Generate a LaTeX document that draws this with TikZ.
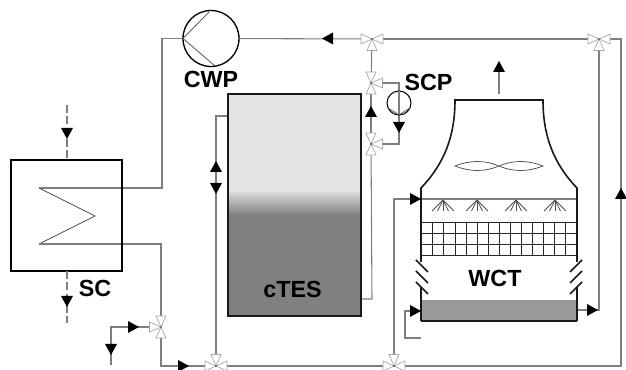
\documentclass[tikz,border=0pt]{standalone}
\usepackage{fontspec}
\setmainfont{Liberation Sans}
\usepackage{xcolor}
\usepackage{tikz}
\usetikzlibrary{calc}

\definecolor{pipegray}{HTML}{7F7F7F}
\definecolor{valvegray}{HTML}{A6A6A6}
\definecolor{tesLight}{HTML}{E3E3E3}
\definecolor{tesDark}{HTML}{808080}
\definecolor{basinGray}{HTML}{999999}

\tikzset{
  pipe/.style={draw=pipegray, line width=0.8pt},
  wall/.style={draw=black!90, line width=1.2pt},
  valveline/.style={draw=valvegray, fill=white, line width=0.5pt, line join=miter},
  thinline/.style={draw=black!70, line width=0.55pt},
  tag/.style={font=\fontsize{17.5}{20}\selectfont\bfseries, text=black, inner sep=0pt}
}

% tip of the arrow at #1, pointing along angle #2
\newcommand{\flowhead}[2]{\fill[black, shift={(#1)}, rotate=#2] (0,0) -- (-11,6) -- (-11,-6) -- cycle;}
% three-way valve at #1, stem turned by #2 (0 = stem downwards)
\newcommand{\threeway}[2]{%
  \begin{scope}[shift={(#1)}, rotate=#2]
    \draw[valveline] (0,0) -- (11,-5) -- (11,5) -- cycle;
    \draw[valveline] (0,0) -- (-11,-5) -- (-11,5) -- cycle;
    \draw[valveline] (0,0) -- (-5,11.5) -- (5,11.5) -- cycle;
    \fill[black!70] (0,0) circle (0.9);
  \end{scope}}

\begin{document}
\begin{tikzpicture}[x=0.75pt, y=-0.75pt]
  \useasboundingbox (0,0) rectangle (626,370);

  % Valves and pipe corners
  \coordinate (VA) at (372,39);
  \coordinate (VB) at (599,39);
  \coordinate (VC) at (371,83);
  \coordinate (VD) at (371,144);
  \coordinate (VE) at (161,327);
  \coordinate (VF) at (216,366);
  \coordinate (VG) at (394,366);
  \coordinate (CWPc) at (211,38.5);
  \coordinate (SCPc) at (399,103);

  % Solar collector loop
  \coordinate (coilA) at (39,188);
  \coordinate (coilB) at (95,216);
  \coordinate (coilC) at (39,244);
  \draw[pipe] (CWPc) -- (162,38.5) -- (162,188) -- (coilA);
  \draw[thinline] (coilA) -- (coilB) -- (coilC);
  \draw[pipe] (coilC) -- (161,244) -- (VE);
  \draw[pipe] (VE) -- (161,366) -- (VF);
  \draw[pipe] (VF) -- (VG);
  \draw[pipe] (VG) -- (621,366) -- (621,39) -- (VB);
  \draw[pipe] (VB) -- (VA);
  \draw[pipe] (VA) -- (CWPc);
  \draw[pipe] (VE) -- (111,327) -- (111,365);

  % Tower pipes
  \draw[pipe] (VB) -- (599,310) -- (577,310);
  \draw[pipe] (VG) -- (394,199) -- (421,199);
  \draw[pipe] (421,199) -- (577,199);
  \draw[pipe] (421,338) -- (405,338) -- (405,311) -- (421,311);

  % Tank pipes
  \draw[pipe] (VA) -- (VC);
  \draw[pipe] (VC) -- (VD);
  \draw[pipe] (VD) -- (372,299) -- (361,299);
  \draw[pipe] (VC) -- (399,83) -- (SCPc);
  \draw[pipe] (SCPc) -- (399,144) -- (VD);
  \draw[pipe] (228,116) -- (216,116) -- (VF);

  % Solar collector
  \draw[line width=1.5pt, black] (11,160) rectangle (122,271);
  \draw[pipe, dash pattern=on 6pt off 2.5pt] (67,105) -- (67,160);
  \draw[pipe, dash pattern=on 6pt off 2.5pt] (67,271) -- (67,323);
  \node[tag] (SClabel) at (95,288) {SC};

  % Tank
  \fill[tesLight] (228,94) rectangle (361,190);
  \shade[top color=tesLight, bottom color=tesDark] (228,190) rectangle (361,215);
  \fill[tesDark] (228,215) rectangle (361,316);
  \draw[wall] (228,94) rectangle (361,316);
  \node[tag] (TESlabel) at (292.5,289) {cTES};

  % Pumps
  \draw[line width=1pt, black, fill=white] (CWPc) circle (28);
  \draw[thinline] (209,12) -- (183,38.5) -- (215,66);
  \draw[line width=0.8pt, black] (SCPc) circle (12);
  \draw[pipe] (399,91) -- (399,115);
  \draw[thinline] (388,108) -- (399,115) -- (410,108);
  \node[tag] (CWPlabel) at (211,79) {CWP};
  \node[tag] (SCPlabel) at (428.5,82) {SCP};

  % Cooling tower
  \draw[wall] (421,262) -- (421,188) .. controls (445,163) and (455,135) .. (455,100) -- (543,100)
    .. controls (543,135) and (553,163) .. (577,188) -- (577,262);
  \draw[wall] (421,287) -- (421,321);
  \draw[wall] (577,287) -- (577,321);
  \draw[pipe] (499,94) -- (499,70);
  \draw[thinline] (455,166) .. controls (470,160) and (485,160) .. (499,166) .. controls (513,172) and (528,172) .. (543,166)
    .. controls (528,160) and (513,160) .. (499,166) .. controls (485,172) and (470,172) .. (455,166) -- cycle;
  \foreach \sx in {443,477,516,555} {
    \foreach \dx in {-11,-5.5,0,5.5,11}
      \draw[thinline] (\sx,200) -- ($(\sx,211)+(\dx,0)$);
  }
  \foreach \gy in {222,233,244,255}
    \draw[thinline, draw=black!85] (421,\gy) -- (577,\gy);
  \foreach \gi in {1,...,13}
    \draw[thinline, draw=black!85] ({421.7+\gi*11.07},222) -- ({421.7+\gi*11.07},255);
  \foreach \ly in {260,271,282} {
    \draw[line width=1.1pt, black!90] (416,\ly) -- (428,\ly+12);
    \draw[line width=1.1pt, black!90] (582,\ly) -- (570,\ly+12);
  }
  \fill[basinGray] (421,300) rectangle (577,321);
  \draw[wall] (421,321) -- (577,321);
  \draw[wall] (421,300) -- (421,321);
  \draw[wall] (577,300) -- (577,321);
  \node[tag] (WCTlabel) at (495,278) {WCT};

  % Flow direction
  \flowhead{322,38.5}{180}
  \flowhead{371,106}{90}
  \flowhead{399,133}{-90}
  \flowhead{216,161}{90}
  \flowhead{216,194}{-90}
  \flowhead{67,139}{-90}
  \flowhead{67,307}{-90}
  \flowhead{139,327}{0}
  \flowhead{111,355}{-90}
  \flowhead{189,366}{0}
  \flowhead{421,199}{0}
  \flowhead{421,311}{0}
  \flowhead{598,310}{0}
  \flowhead{621,188}{90}
  \flowhead{499,61}{90}

  % Valves go on top of the pipes
  \threeway{VA}{0}
  \threeway{VB}{0}
  \threeway{VC}{90}
  \threeway{VD}{90}
  \threeway{VE}{-90}
  \threeway{VF}{180}
  \threeway{VG}{180}
\end{tikzpicture}
\end{document}
